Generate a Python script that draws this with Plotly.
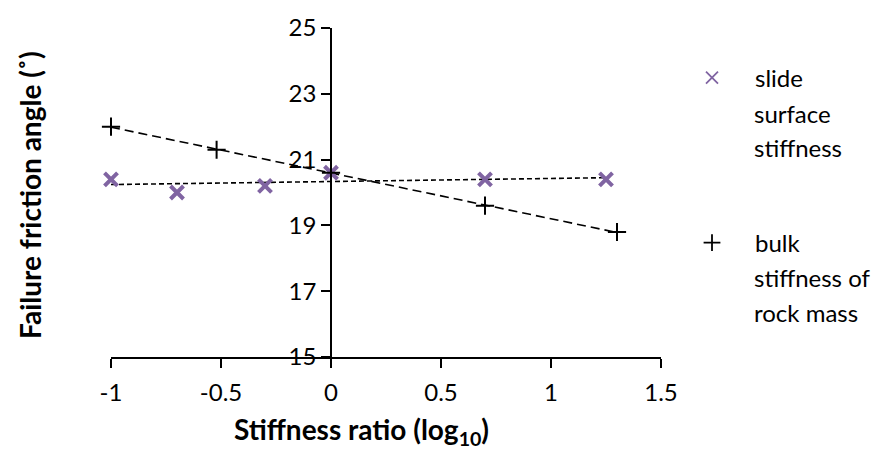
import numpy as np
import plotly.graph_objects as go

# ---- data ----
slide_x = [-1.0, -0.7, -0.3, 0.0, 0.7, 1.25]
slide_y = [20.4, 20.0, 20.2, 20.6, 20.4, 20.4]
bulk_x = [-1.0, -0.52, 0.0, 0.7, 1.3]
bulk_y = [22.0, 21.3, 20.6, 19.6, 18.8]
x_ticks = [-1, -0.5, 0, 0.5, 1, 1.5]
x_tick_labels = ["-1", "-0.5", "0", "0.5", "1", "1.5"]
y_ticks = [15, 17, 19, 21, 23, 25]
slide_label_lines = ["slide", "surface", "stiffness"]
bulk_label_lines = ["bulk", "stiffness of", "rock mass"]

FONT = "Lato"
PURPLE = "#8064A2"
W, H = 887, 450
ML, MR, MT, MB = 111, 226, 22, 93
x_range = [-1, 1.5]
y_range = [15, 25]
LEG_SIZE = 24
LINE_H = 36


def trend(xs, ys):
    k, b = np.polyfit(xs, ys, 1)
    xx = np.array([min(xs), max(xs)])
    return xx, k * xx + b


fig = go.Figure()

tx, ty = trend(slide_x, slide_y)
fig.add_trace(go.Scatter(x=tx, y=ty, mode="lines", showlegend=False,
                         cliponaxis=False,
                         line=dict(color="black", width=1.6, dash="5px,3px")))
tx, ty = trend(bulk_x, bulk_y)
fig.add_trace(go.Scatter(x=tx, y=ty, mode="lines", showlegend=False,
                         cliponaxis=False,
                         line=dict(color="black", width=1.6, dash="9px,5px")))

fig.add_trace(go.Scatter(x=slide_x, y=slide_y, mode="markers",
                         showlegend=False, cliponaxis=False,
                         marker=dict(symbol="x-thin-open", size=13,
                                     line=dict(color=PURPLE, width=4),
                                     color=PURPLE)))
fig.add_trace(go.Scatter(x=bulk_x, y=bulk_y, mode="markers",
                         showlegend=False, cliponaxis=False,
                         marker=dict(symbol="cross-thin-open", size=13,
                                     line=dict(color="black", width=2),
                                     color="black")))
# legend entries (thinner legend symbols as in the reference)
fig.add_trace(go.Scatter(x=[None], y=[None], mode="markers",
                         name=slide_label_lines[0], legend="legend",
                         marker=dict(symbol="x-thin-open", size=12,
                                     line=dict(color=PURPLE, width=1.8),
                                     color=PURPLE)))
fig.add_trace(go.Scatter(x=[None], y=[None], mode="markers",
                         name=bulk_label_lines[0], legend="legend2",
                         marker=dict(symbol="cross-thin-open", size=12,
                                     line=dict(color="black", width=1.8),
                                     color="black")))

pw = W - ML - MR
ph = H - MT - MB


def px_x(p):
    return (p - ML) / pw


def px_y(p):
    return (H - MB - p) / ph


yaxis_pos = (0 - x_range[0]) / (x_range[1] - x_range[0])

leg_common = dict(xanchor="left", yanchor="middle", itemwidth=76,
                  bgcolor="rgba(0,0,0,0)", borderwidth=0,
                  font=dict(family=FONT, size=LEG_SIZE))

fig.update_layout(
    width=W, height=H,
    margin=dict(l=ML, r=MR, t=MT, b=MB),
    paper_bgcolor="white", plot_bgcolor="white",
    font=dict(family=FONT, size=24, color="black"),
    xaxis=dict(range=x_range, tickvals=x_ticks, ticktext=x_tick_labels,
               showgrid=False, zeroline=False, showline=True,
               linecolor="black", linewidth=1.5, ticks="outside",
               ticklen=9, tickwidth=1.5, tickcolor="black",
               tickfont=dict(family=FONT, size=24), ticklabelstandoff=4),
    yaxis=dict(range=y_range, tickvals=y_ticks, showgrid=False,
               zeroline=False, showline=True, linecolor="black",
               linewidth=1.5, ticks="outside", ticklen=9, tickwidth=1.5,
               tickcolor="black", anchor="free", position=yaxis_pos,
               tickfont=dict(family=FONT, size=24)),
    showlegend=True,
    legend=dict(x=px_x(669), y=px_y(73), **leg_common),
    legend2=dict(x=px_x(669), y=px_y(241), **leg_common),
)

annotations = [
    dict(text="<b>Failure friction angle (˚)</b>", textangle=-90,
         xref="paper", yref="paper", x=px_x(30), y=px_y(192),
         showarrow=False, font=dict(family=FONT, size=28),
         xanchor="center", yanchor="middle"),
    dict(text="<b>Stiffness ratio (log<sub>10</sub>)</b>",
         xref="paper", yref="paper", x=px_x(361), y=px_y(432),
         showarrow=False, font=dict(family=FONT, size=28),
         xanchor="center", yanchor="middle"),
]
for i, line in enumerate(slide_label_lines[1:], start=1):
    annotations.append(dict(text=line, xref="paper", yref="paper",
                            x=px_x(752), y=px_y(74 + 35 * i),
                            showarrow=False, xanchor="left", yanchor="middle",
                            font=dict(family=FONT, size=LEG_SIZE)))
for i, line in enumerate(bulk_label_lines[1:], start=1):
    annotations.append(dict(text=line, xref="paper", yref="paper",
                            x=px_x(752), y=px_y(240 + LINE_H * i),
                            showarrow=False, xanchor="left", yanchor="middle",
                            font=dict(family=FONT, size=LEG_SIZE)))
fig.update_layout(annotations=annotations)

fig.write_html("out.html")
